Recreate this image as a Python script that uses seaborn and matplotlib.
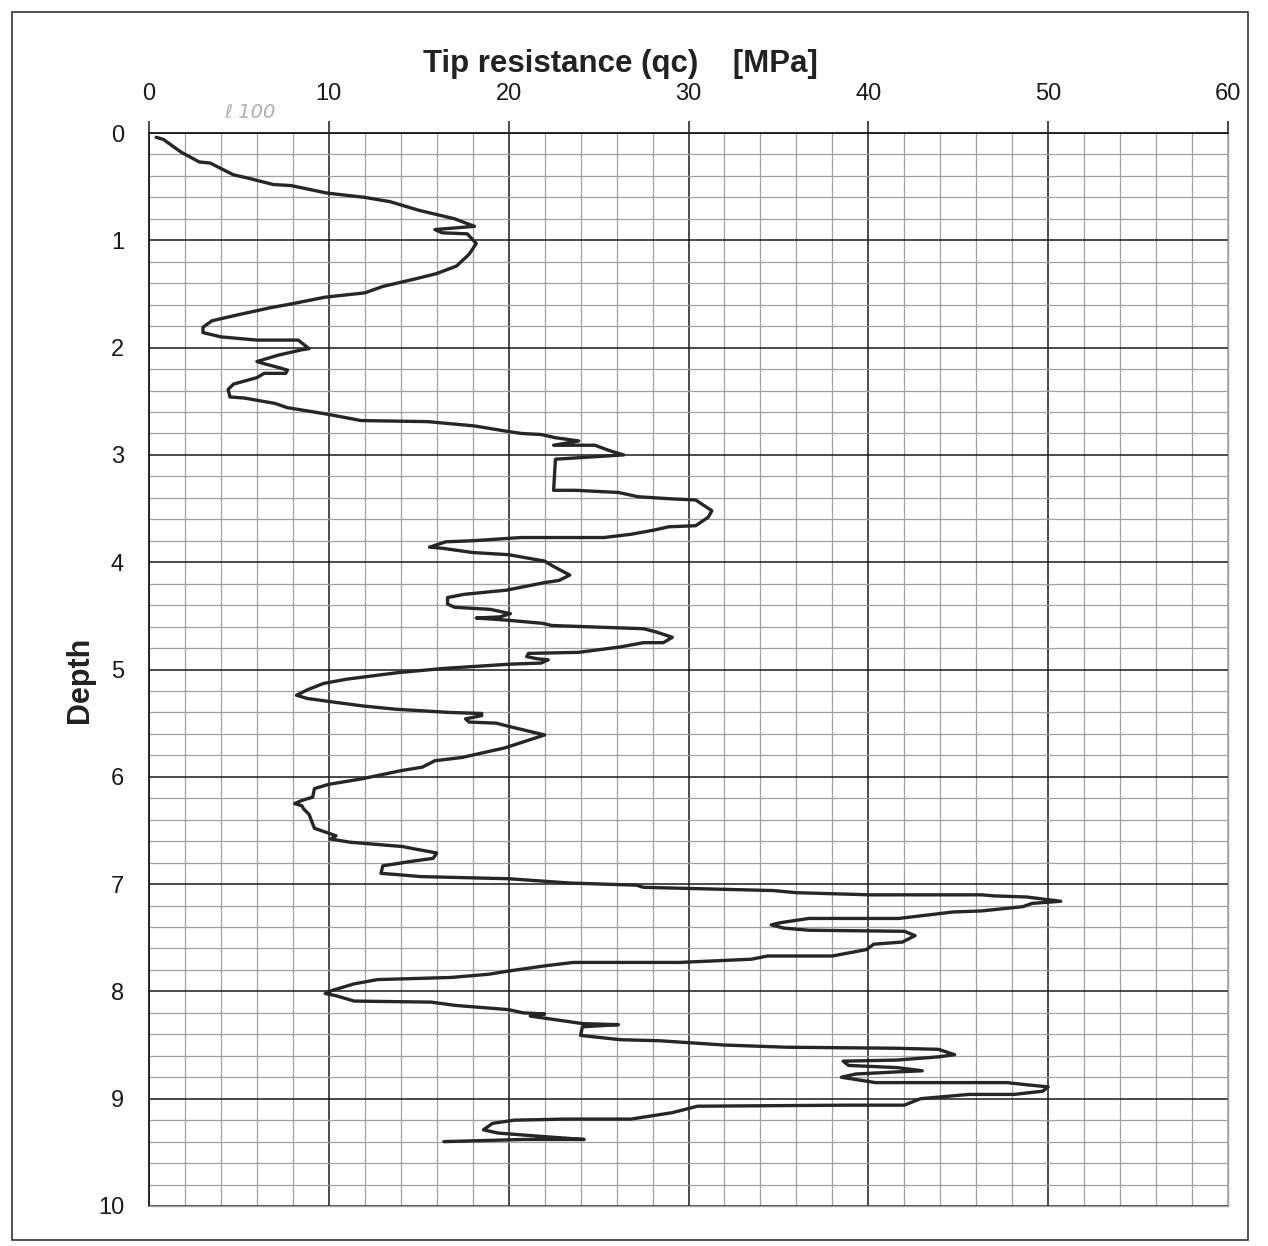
import numpy as np
import pandas as pd
import matplotlib
matplotlib.use("Agg")
import matplotlib.pyplot as plt
import seaborn as sns
from matplotlib.patches import Rectangle
from matplotlib.ticker import MultipleLocator

# CPT sounding: depth [m] and tip resistance qc [MPa]
depth = [
    0.04, 0.06, 0.18, 0.27, 0.28, 0.39, 0.42, 0.48, 0.49, 0.56, 0.60, 0.64, 0.72, 0.80, 0.87,
    0.90, 0.93, 0.94, 1.03, 1.13, 1.24, 1.31, 1.36, 1.43, 1.49, 1.53, 1.59, 1.63, 1.70, 1.75,
    1.81, 1.86, 1.90, 1.93, 1.93, 2.01, 2.02, 2.07, 2.13, 2.15, 2.19, 2.21, 2.24, 2.24, 2.28,
    2.34, 2.39, 2.46, 2.47, 2.52, 2.56, 2.62, 2.68, 2.69, 2.73, 2.78,
    2.80, 2.81, 2.84, 2.87, 2.91, 2.91, 2.96, 3.00, 3.04, 3.33, 3.33, 3.35, 3.39, 3.41, 3.42,
    3.52, 3.58, 3.66, 3.67, 3.70, 3.74, 3.77, 3.77,
    3.80, 3.81, 3.86, 3.87, 3.91, 3.93, 3.99, 4.04, 4.12, 4.17, 4.19, 4.26, 4.30, 4.33, 4.39,
    4.42, 4.44, 4.48, 4.51, 4.52, 4.54, 4.57, 4.59, 4.62, 4.65, 4.70, 4.75, 4.75, 4.79, 4.84,
    4.85, 4.88, 4.90, 4.91, 4.94, 4.95, 4.99, 5.03, 5.09, 5.13, 5.19, 5.24, 5.27, 5.30, 5.34,
    5.37, 5.40, 5.41, 5.43, 5.46, 5.49, 5.50, 5.53, 5.61, 5.73, 5.82, 5.85, 5.91, 5.94, 6.02,
    6.07, 6.11, 6.19, 6.22, 6.25, 6.27, 6.30, 6.35, 6.48, 6.52, 6.55, 6.58, 6.61, 6.65, 6.67,
    6.71, 6.76, 6.79, 6.83, 6.90, 6.91, 6.93, 6.95, 6.99, 7.01, 7.03, 7.04, 7.06, 7.08, 7.10,
    7.10, 7.11, 7.12, 7.16, 7.18, 7.21, 7.25, 7.26, 7.32, 7.32, 7.32, 7.36, 7.38, 7.41, 7.43,
    7.44, 7.48, 7.54, 7.56, 7.61, 7.67, 7.67, 7.70, 7.73, 7.73, 7.76, 7.81, 7.84, 7.87, 7.89,
    7.93, 7.99, 8.02, 8.04, 8.09, 8.10, 8.13, 8.17, 8.20, 8.21, 8.23, 8.30, 8.31, 8.33, 8.41,
    8.45, 8.46, 8.50, 8.52, 8.53, 8.54, 8.59, 8.61, 8.64, 8.65, 8.69, 8.71, 8.74, 8.75, 8.77,
    8.80, 8.85, 8.85, 8.87, 8.89, 8.93, 8.96, 8.96, 9.00, 9.06, 9.06, 9.07, 9.10, 9.13, 9.19,
    9.19, 9.20, 9.23, 9.29, 9.32, 9.35, 9.38, 9.38, 9.39, 9.40,
]
qc = [
    0.4, 0.8, 1.8, 2.8, 3.4, 4.7, 5.5, 6.9, 7.9, 9.9, 12.0, 13.4, 15.0, 17.0, 18.1,
    15.9, 16.3, 17.7, 18.2, 17.8, 17.1, 16.0, 14.8, 13.0, 12.0, 9.8, 8.0, 6.7, 4.8, 3.5,
    3.0, 3.0, 4.0, 6.0, 8.3, 8.9, 8.5, 7.2, 6.0, 6.4, 7.3, 7.7, 7.6, 6.4, 6.0,
    4.7, 4.4, 4.5, 5.3, 7.0, 7.7, 9.9, 11.8, 15.5, 18.1, 19.9,
    20.7, 21.8, 22.6, 23.9, 22.5, 24.8, 25.6, 26.4, 22.6, 22.5, 23.7, 26.1, 27.2, 29.1, 30.4,
    31.3, 31.1, 30.4, 28.9, 28.1, 26.8, 25.3, 20.7,
    18.0, 16.5, 15.6, 16.3, 18.0, 20.0, 22.0, 22.5, 23.4, 22.8, 22.0, 19.9, 17.5, 16.6, 16.6,
    17.0, 19.0, 20.1, 19.5, 18.2, 19.9, 21.9, 22.4, 27.5, 28.2, 29.1, 28.6, 27.5, 26.2, 23.9,
    21.1, 21.0, 21.6, 22.2, 21.8, 20.1, 16.4, 13.8, 11.0, 9.7, 8.8, 8.2, 8.8, 10.1, 11.9,
    13.7, 16.7, 18.5, 18.5, 17.6, 17.8, 19.3, 20.0, 22.0, 19.8, 17.4, 15.9, 15.2, 14.1, 11.8,
    10.0, 9.2, 9.1, 8.5, 8.1, 8.5, 8.6, 8.9, 9.2, 9.9, 10.4, 10.1, 11.2, 14.1, 14.7,
    16.0, 15.8, 14.5, 13.0, 12.9, 13.7, 15.1, 20.0, 23.4, 27.1, 27.5, 29.9, 34.7, 36.0, 40.1,
    46.3, 47.0, 48.8, 50.7, 49.1, 48.6, 46.3, 44.7, 41.7, 40.1, 36.7, 35.1, 34.6, 35.3, 36.7,
    42.0, 42.6, 41.9, 40.3, 39.9, 38.0, 34.4, 33.5, 29.5, 23.6, 22.1, 20.0, 18.9, 16.8, 12.7,
    11.4, 10.2, 9.8, 10.4, 11.4, 15.7, 17.0, 20.0, 20.8, 22.0, 21.2, 24.1, 26.1, 24.1, 24.0,
    26.2, 28.4, 32.0, 35.4, 41.6, 43.9, 44.8, 43.9, 41.6, 38.6, 38.9, 41.6, 43.0, 41.6, 39.3,
    38.5, 40.4, 47.7, 48.8, 50.0, 49.7, 48.1, 45.6, 42.9, 42.0, 39.0, 30.5, 29.8, 29.1, 26.8,
    23.1, 20.3, 19.1, 18.6, 19.4, 21.7, 24.2, 20.8, 18.5, 16.4,
]
qc_ticks = [0, 10, 20, 30, 40, 50, 60]
depth_ticks = [0, 1, 2, 3, 4, 5, 6, 7, 8, 9, 10]

df = pd.DataFrame({"qc": qc, "depth": depth})

sns.set_style("white")
plt.rcParams["font.family"] = ["Liberation Sans", "DejaVu Sans"]

fig = plt.figure(figsize=(12.68, 12.46), dpi=100)
ax = fig.add_axes([149 / 1268, 1 - 1206 / 1246, (1228 - 149) / 1268, (1206 - 133) / 1246])

sns.lineplot(data=df, x="qc", y="depth", sort=False, estimator=None,
             color="#262626", linewidth=2.4, ax=ax)

ax.set_xlim(0, 60)
ax.set_ylim(10, 0)
ax.set_xticks(qc_ticks)
ax.set_yticks(depth_ticks)
ax.xaxis.set_minor_locator(MultipleLocator(2))
ax.yaxis.set_minor_locator(MultipleLocator(0.2))
ax.xaxis.tick_top()
ax.set_xlabel("")
ax.set_ylabel("")

ax.grid(which="minor", color="#a0a0a0", linewidth=0.9)
ax.grid(which="major", color="#1a1a1a", linewidth=1.1)
ax.set_axisbelow(True)
# the right-hand edge line is a light one on the sheet
ax.get_xgridlines()[-1].set_color("#a0a0a0")

ax.tick_params(axis="both", which="major", labelsize=17, length=9, width=1.1,
               color="#1a1a1a", labelcolor="#1a1a1a")
ax.tick_params(axis="x", which="major", pad=11)
ax.tick_params(axis="y", which="major", pad=9)
ax.tick_params(which="minor", length=0)

for side in ["top", "left"]:
    ax.spines[side].set_color("#1a1a1a")
    ax.spines[side].set_linewidth(1.3)
for side in ["right", "bottom"]:
    ax.spines[side].set_color("#a0a0a0")
    ax.spines[side].set_linewidth(1.0)

fig.text(620 / 1268, 1 - 64 / 1246, "Tip resistance (qc)    [MPa]", fontsize=22.5,
         fontweight="bold", color="#222222", ha="center", va="center")
fig.text(80 / 1268, 1 - 680 / 1246, "Depth", fontsize=22, fontweight="bold",
         color="#222222", rotation=90, ha="center", va="center")
# faint pencil note on the sheet
fig.text(250 / 1268, 1 - 112 / 1246, "ℓ 100", fontsize=14, color="#b0b0b0",
         style="italic", ha="center", va="center", family=["DejaVu Sans"])

# page frame around the sheet
fig.patches.append(Rectangle((12 / 1268, 1 - 1240 / 1246), (1248 - 12) / 1268,
                             (1240 - 12) / 1246, transform=fig.transFigure,
                             fill=False, edgecolor="#333333", linewidth=1.2))

fig.savefig("out.png", dpi=100)
